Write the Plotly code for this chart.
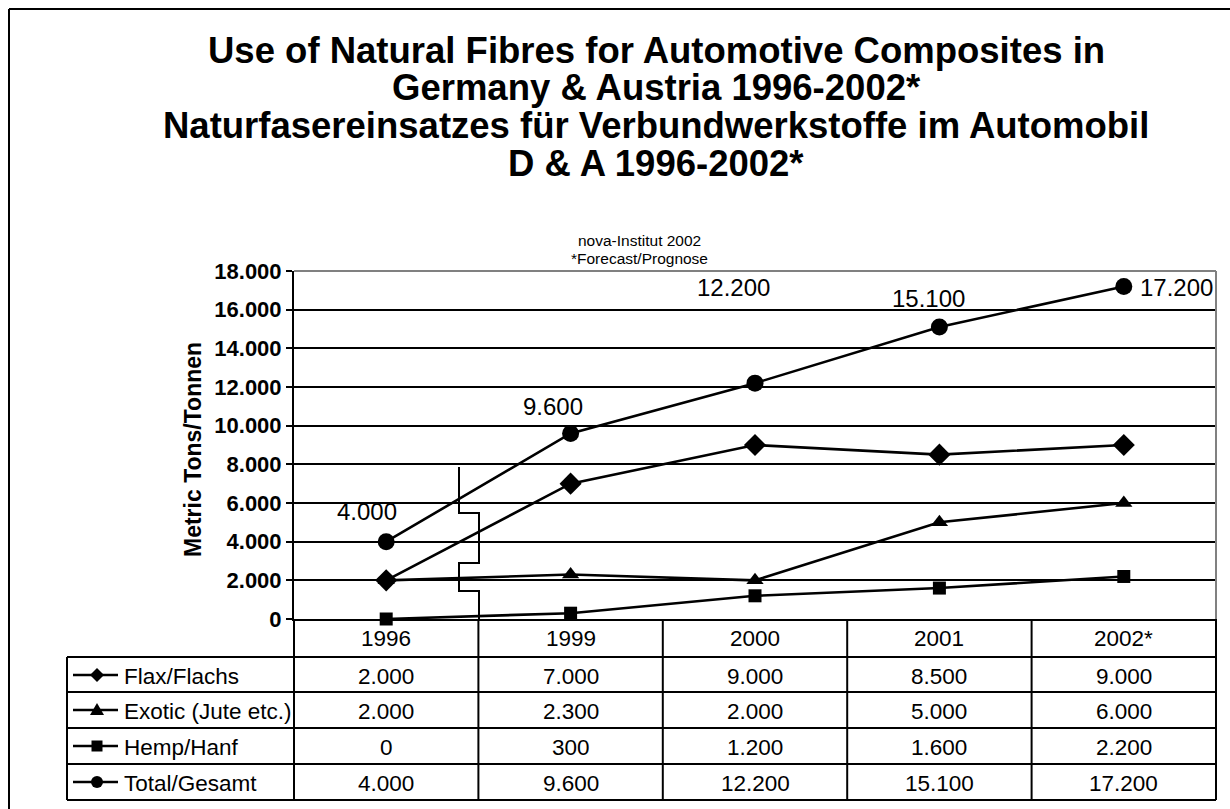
import plotly.graph_objects as go

# ---------------- data ----------------
years = ["1996", "1999", "2000", "2001", "2002*"]
flax = [2000, 7000, 9000, 8500, 9000]
exotic = [2000, 2300, 2000, 5000, 6000]
hemp = [0, 300, 1200, 1600, 2200]
total = [4000, 9600, 12200, 15100, 17200]

series_names = ["Flax/Flachs", "Exotic (Jute etc.)", "Hemp/Hanf", "Total/Gesamt"]
series_values = [flax, exotic, hemp, total]
series_symbols = ["diamond", "triangle-up", "square", "circle"]
series_msizes = [17, 15, 13, 17]

title_lines = [
    "Use of Natural Fibres for Automotive Composites in",
    "Germany & Austria 1996-2002*",
    "Naturfasereinsatzes für Verbundwerkstoffe im Automobil",
    "D & A 1996-2002*",
]
subtitle_lines = ["nova-Institut 2002", "*Forecast/Prognose"]
y_title = "Metric Tons/Tonnen"

FONT = "Liberation Sans, Arial, sans-serif"
W, H = 1230, 809
L, R, T, B = 294, 1216, 271, 619  # plot area in page pixels


def fmt(v):
    return f"{v:,}".replace(",", ".")


def px_x(x):
    return (x - L) / (R - L)


def px_y(y):
    return (B - y) / (B - T)


fig = go.Figure()

xidx = list(range(len(years)))
for name, vals, sym, ms in zip(series_names, series_values, series_symbols, series_msizes):
    fig.add_trace(go.Scatter(
        x=xidx, y=vals, name=name, mode="lines+markers",
        line=dict(color="black", width=2.6),
        marker=dict(symbol=sym, size=ms, color="black", line=dict(width=0)),
        showlegend=False, cliponaxis=False,
    ))

shapes = []
annotations = []

# outer frame (top and left edges visible)
shapes.append(dict(type="line", xref="paper", yref="paper",
                   x0=px_x(9), x1=px_x(1240), y0=px_y(9), y1=px_y(9),
                   line=dict(color="black", width=2)))
shapes.append(dict(type="line", xref="paper", yref="paper",
                   x0=px_x(9), x1=px_x(9), y0=px_y(9), y1=px_y(820),
                   line=dict(color="black", width=2)))

# plot area top/right border (grey)
shapes.append(dict(type="line", xref="paper", yref="paper", x0=0, x1=1, y0=1, y1=1,
                   line=dict(color="#808080", width=2)))
shapes.append(dict(type="line", xref="paper", yref="paper", x0=1, x1=1, y0=0, y1=1,
                   line=dict(color="#808080", width=2)))

# axis break symbol
bx0, bx1 = 459, 479
brk = [(bx0, 467), (bx0, 513), (bx1, 513), (bx1, 563), (bx0, 563), (bx0, 591), (bx1, 591), (bx1, 619)]
path = "M " + " L ".join(f"{px_x(a):.5f},{px_y(b):.5f}" for a, b in brk)
shapes.append(dict(type="path", xref="paper", yref="paper", path=path,
                   line=dict(color="black", width=2)))

# data table
row_lines = [657, 692, 728, 764, 800]
row_centers = [675, 710, 746, 782]
header_center = 638
tbl_left = 67
TFS = 22.5
for yy in row_lines:
    shapes.append(dict(type="line", xref="paper", yref="paper",
                       x0=px_x(tbl_left), x1=1, y0=px_y(yy), y1=px_y(yy),
                       line=dict(color="black", width=2)))
shapes.append(dict(type="line", xref="paper", yref="paper",
                   x0=px_x(tbl_left), x1=px_x(tbl_left), y0=px_y(row_lines[0]), y1=px_y(row_lines[-1]),
                   line=dict(color="black", width=2)))
n = len(years)
for i in range(n + 1):
    xx = i / n
    shapes.append(dict(type="line", xref="paper", yref="paper",
                       x0=xx, x1=xx, y0=0, y1=px_y(row_lines[-1]),
                       line=dict(color="black", width=2)))

for i, yr in enumerate(years):
    annotations.append(dict(x=i, y=px_y(header_center), xref="x", yref="paper",
                            text=yr, showarrow=False, xanchor="center", yanchor="middle",
                            font=dict(size=TFS, color="black", family=FONT)))

for name, vals, sym, yc in zip(series_names, series_values, series_symbols, row_centers):
    annotations.append(dict(x=px_x(122), y=px_y(yc + 1), xref="paper", yref="paper",
                            text=name, showarrow=False, xanchor="left", yanchor="middle",
                            font=dict(size=TFS, color="black", family=FONT)))
    for i, v in enumerate(vals):
        annotations.append(dict(x=i, y=px_y(yc + 1), xref="x", yref="paper",
                                text=fmt(v), showarrow=False, xanchor="center", yanchor="middle",
                                font=dict(size=TFS, color="black", family=FONT)))
    # legend key: line + marker
    shapes.append(dict(type="line", xref="paper", yref="paper",
                       x0=px_x(73), x1=px_x(118), y0=px_y(yc), y1=px_y(yc),
                       line=dict(color="black", width=2.5)))
    cx = 97
    if sym == "diamond":
        pts = [(cx, yc - 7), (cx + 7, yc), (cx, yc + 7), (cx - 7, yc)]
    elif sym == "triangle-up":
        pts = [(cx, yc - 7), (cx + 7, yc + 5), (cx - 7, yc + 5)]
    elif sym == "square":
        pts = [(cx - 5.5, yc - 5.5), (cx + 5.5, yc - 5.5), (cx + 5.5, yc + 5.5), (cx - 5.5, yc + 5.5)]
    else:
        pts = None
    if pts:
        p = "M " + " L ".join(f"{px_x(a):.5f},{px_y(b):.5f}" for a, b in pts) + " Z"
        shapes.append(dict(type="path", xref="paper", yref="paper", path=p,
                           fillcolor="black", line=dict(color="black", width=0)))
    else:
        r = 6
        shapes.append(dict(type="circle", xref="paper", yref="paper",
                           x0=px_x(cx - r), x1=px_x(cx + r), y0=px_y(yc - r), y1=px_y(yc + r),
                           fillcolor="black", line=dict(color="black", width=0)))

# data labels for total
label_offsets = [(-19, 30, "center"), (-18, 27, "center"), (-22, 96, "center"), (-11, 29, "center"), (14, -1, "left")]
for i, (v, (dx, dy, xa)) in enumerate(zip(total, label_offsets)):
    annotations.append(dict(x=i, y=v, xref="x", yref="y", text=fmt(v), showarrow=False,
                            xanchor=xa, yanchor="middle", xshift=dx, yshift=dy,
                            font=dict(size=24, color="black", family=FONT)))

# titles
for txt, yc in zip(title_lines, [50, 88, 126, 163]):
    annotations.append(dict(x=px_x(656), y=px_y(yc), xref="paper", yref="paper", text=f"<b>{txt}</b>",
                            showarrow=False, xanchor="center", yanchor="middle",
                            font=dict(size=36.5, color="black", family=FONT)))
for txt, yc in zip(subtitle_lines, [240, 258]):
    annotations.append(dict(x=px_x(639), y=px_y(yc), xref="paper", yref="paper", text=txt,
                            showarrow=False, xanchor="center", yanchor="middle",
                            font=dict(size=15.5, color="black", family=FONT)))

# y axis title
annotations.append(dict(x=px_x(193), y=px_y(450), xref="paper", yref="paper", text=f"<b>{y_title}</b>",
                        showarrow=False, textangle=-90, xanchor="center", yanchor="middle",
                        font=dict(size=23, color="black", family=FONT)))

fig.update_layout(
    width=W, height=H,
    margin=dict(l=L, r=W - R, t=T, b=H - B, pad=0),
    paper_bgcolor="white", plot_bgcolor="white",
    separators=",.",
    font=dict(family=FONT, color="black"),
    shapes=shapes, annotations=annotations,
    xaxis=dict(range=[-0.5, n - 0.5], showticklabels=False, ticks="", showgrid=False,
               showline=True, linecolor="black", linewidth=2, zeroline=False, fixedrange=True),
    yaxis=dict(range=[0, 18000], dtick=2000, tickformat=",d", showgrid=True, gridcolor="black",
               gridwidth=1.6, zeroline=True, zerolinecolor="black", zerolinewidth=2,
               showline=True, linecolor="black", linewidth=2,
               ticks="outside", ticklen=6, tickwidth=2, tickcolor="black",
               tickfont=dict(size=22, color="black", family=FONT, weight="bold"), fixedrange=True),
)

fig.write_html(
    "out.html",
    config={"displayModeBar": False},
    post_script="document.body.style.margin='0';document.body.style.overflow='hidden';",
)
